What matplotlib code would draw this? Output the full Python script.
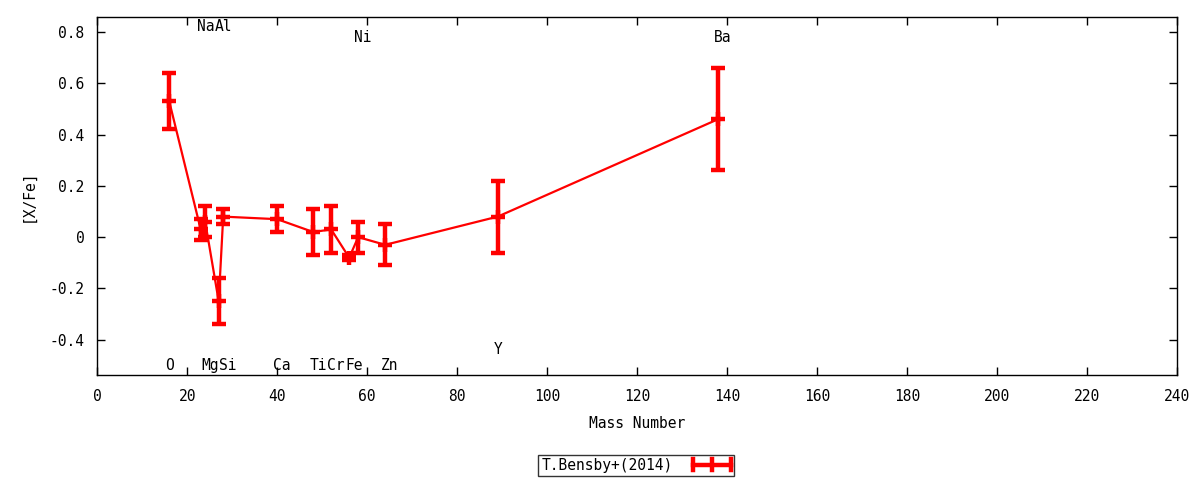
import matplotlib
matplotlib.use("Agg")
import matplotlib.pyplot as plt
from matplotlib.ticker import MultipleLocator
from matplotlib.legend_handler import HandlerBase
from matplotlib.lines import Line2D

elements = ['O', 'Na', 'Mg', 'Al', 'Si', 'Ca', 'Ti', 'Cr', 'Fe', 'Ni', 'Zn', 'Y', 'Ba']
mass = [16, 23, 24, 27, 28, 40, 48, 52, 56, 58, 64, 89, 138]
xfe = [0.53, 0.03, 0.06, -0.25, 0.08, 0.07, 0.02, 0.03, -0.08, 0.00, -0.03, 0.08, 0.46]
err = [0.11, 0.04, 0.06, 0.09, 0.03, 0.05, 0.09, 0.09, 0.01, 0.06, 0.08, 0.14, 0.20]
label_y = [-0.50, 0.82, -0.50, 0.82, -0.50, -0.50, -0.50, -0.50, -0.50, 0.78, -0.50, -0.44, 0.78]
series_name = 'T.Bensby+(2014)'

plt.rcParams['font.family'] = ['DejaVu Sans Mono']
FS = 10.5
plt.rcParams['font.size'] = FS

fig = plt.figure(figsize=(12, 4.8), dpi=100)
ax = fig.add_axes([0.081, 0.219, 0.900, 0.746])

red = '#ff0000'
ax.plot(mass, xfe, color=red, lw=1.6, zorder=2)
eb = ax.errorbar(mass, xfe, yerr=err, fmt='+', color=red, ecolor=red,
                 elinewidth=3.2, capsize=5, capthick=3.2, markersize=10,
                 markeredgewidth=3.2, zorder=3)

for el, m, ly in zip(elements, mass, label_y):
    ax.text(m - 0.9, ly, el, ha='left', va='center', fontsize=FS)

ax.set_xlim(0, 240)
ax.set_ylim(-0.537, 0.859)
ax.xaxis.set_major_locator(MultipleLocator(20))
ax.set_yticks([-0.4, -0.2, 0, 0.2, 0.4, 0.6, 0.8])
ax.set_yticklabels(['-0.4', '-0.2', '0', '0.2', '0.4', '0.6', '0.8'])
ax.tick_params(direction='in', length=6, width=1, top=True, right=True,
               labelsize=FS)
ax.tick_params(axis='x', pad=10)
ax.tick_params(axis='y', pad=9)
for s in ax.spines.values():
    s.set_linewidth(1)

ax.set_xlabel('Mass Number', labelpad=9)
ax.set_ylabel('[X/Fe]', labelpad=10)


class HandlerGnuErr(HandlerBase):
    def create_artists(self, legend, orig_handle, xdescent, ydescent,
                       width, height, fontsize, trans):
        y = height / 2 - ydescent
        x0, x1 = -xdescent, width - xdescent
        xm = (x0 + x1) / 2
        artists = [Line2D([x0, x1], [y, y], color=red, lw=3.2, transform=trans)]
        for xx in (x0, xm, x1):
            artists.append(Line2D([xx, xx], [y - 4, y + 4], color=red, lw=3.2,
                                  transform=trans))
        return artists


handle = Line2D([], [], color=red)
leg = fig.legend([handle], [series_name], loc='center', bbox_to_anchor=(0.53, 0.031),
                 markerfirst=False, frameon=True, fancybox=False, edgecolor='black',
                 borderpad=0.2, handlelength=2.6, handletextpad=1.4,
                 borderaxespad=0, fontsize=FS,
                 handler_map={Line2D: HandlerGnuErr()})
leg.get_frame().set_linewidth(1)

fig.savefig('out.png', dpi=100)
